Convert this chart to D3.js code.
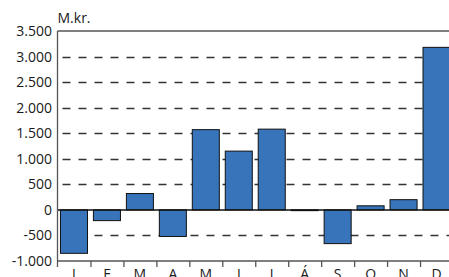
<!DOCTYPE html>
<html>
<head>
<meta charset="utf-8">
<script src="https://cdn.jsdelivr.net/npm/d3@7"></script>
<style>
  body { margin: 0; background: #fff; }
  svg { display: block; }
  text { font-family: "Open Sans", sans-serif; fill: #1a1a1a; }
</style>
</head>
<body>
<div id="chart"></div>
<script>
// chart data
var months = ["J", "F", "M", "A", "M", "J", "J", "Á", "S", "O", "N", "D"];
var values = [-850, -210, 320, -520, 1570, 1150, 1580, -15, -660, 80, 200, 3180];
var tick_values = [-1000, -500, 0, 500, 1000, 1500, 2000, 2500, 3000, 3500];
var tick_labels = ["-1.000", "-500", "0", "500", "1.000", "1.500", "2.000", "2.500", "3.000", "3.500"];
var unit_label = "M.kr.";

// settings
var width = 449;
var height = 277;
var left = 57.5;
var right = 453;
var top_y = 31;
var bottom_y = 261;
var bar_color = "#3874ba";
var axis_color = "#555";

var svg = d3.select("#chart")
    .append("svg")
    .attr("width", width)
    .attr("height", height);

var x = d3.scaleBand()
    .domain(d3.range(months.length))
    .range([left, right])
    .paddingInner(0.18)
    .paddingOuter(0.09);

var y = d3.scaleLinear()
    .domain([-1000, 3500])
    .range([bottom_y, top_y]);

// dashed gridlines
svg.append("g")
    .selectAll("line")
    .data(tick_values.filter(function(d) { return d != 0 && d != -1000 && d != 3500; }))
    .enter().append("line")
    .attr("x1", left + 5)
    .attr("x2", width)
    .attr("y1", function(d) { return Math.round(y(d)) + 0.5; })
    .attr("y2", function(d) { return Math.round(y(d)) + 0.5; })
    .attr("stroke", "#333")
    .attr("stroke-width", 1.3)
    .attr("stroke-dasharray", "8,8");

// top border
svg.append("line")
    .attr("x1", left).attr("x2", width)
    .attr("y1", y(3500)).attr("y2", y(3500))
    .attr("stroke", axis_color)
    .attr("stroke-width", 1.3);

// bars
svg.append("g")
    .selectAll("rect")
    .data(values)
    .enter().append("rect")
    .attr("x", function(d, i) { return x(i); })
    .attr("width", x.bandwidth())
    .attr("y", function(d) { return y(Math.max(0, d)); })
    .attr("height", function(d) { return Math.abs(y(d) - y(0)); })
    .attr("fill", bar_color)
    .attr("stroke", "#111")
    .attr("stroke-width", 1);

// zero line
svg.append("line")
    .attr("x1", left).attr("x2", width)
    .attr("y1", y(0)).attr("y2", y(0))
    .attr("stroke", "#111")
    .attr("stroke-width", 1.5);

// left axis
svg.append("line")
    .attr("x1", left).attr("x2", left)
    .attr("y1", top_y).attr("y2", bottom_y + 6)
    .attr("stroke", axis_color)
    .attr("stroke-width", 1.3);

// bottom axis with ticks between months
svg.append("line")
    .attr("x1", left).attr("x2", width)
    .attr("y1", bottom_y).attr("y2", bottom_y)
    .attr("stroke", axis_color)
    .attr("stroke-width", 1.3);

var step = x.step();
svg.append("g")
    .selectAll("line")
    .data(d3.range(1, months.length + 1))
    .enter().append("line")
    .attr("x1", function(i) { return x(i - 1) + x.bandwidth() + step * 0.09 + 0.5; })
    .attr("x2", function(i) { return x(i - 1) + x.bandwidth() + step * 0.09 + 0.5; })
    .attr("y1", bottom_y)
    .attr("y2", bottom_y + 6)
    .attr("stroke", axis_color)
    .attr("stroke-width", 1.3);

// y labels
svg.append("g")
    .selectAll("text")
    .data(tick_values)
    .enter().append("text")
    .attr("x", 52)
    .attr("y", function(d) { return y(d) + 5; })
    .attr("text-anchor", "end")
    .attr("font-size", 14)
    .text(function(d, i) { return tick_labels[i]; });

// month labels (cut off at the bottom edge, as in the original)
svg.append("g")
    .selectAll("text")
    .data(months)
    .enter().append("text")
    .attr("x", function(d, i) { return x(i) + x.bandwidth() / 2; })
    .attr("y", 278.5)
    .attr("text-anchor", "middle")
    .attr("font-size", 14)
    .text(function(d) { return d; });

// unit label
svg.append("text")
    .attr("x", left)
    .attr("y", 23)
    .attr("font-size", 14)
    .text(unit_label);
</script>
</body>
</html>
